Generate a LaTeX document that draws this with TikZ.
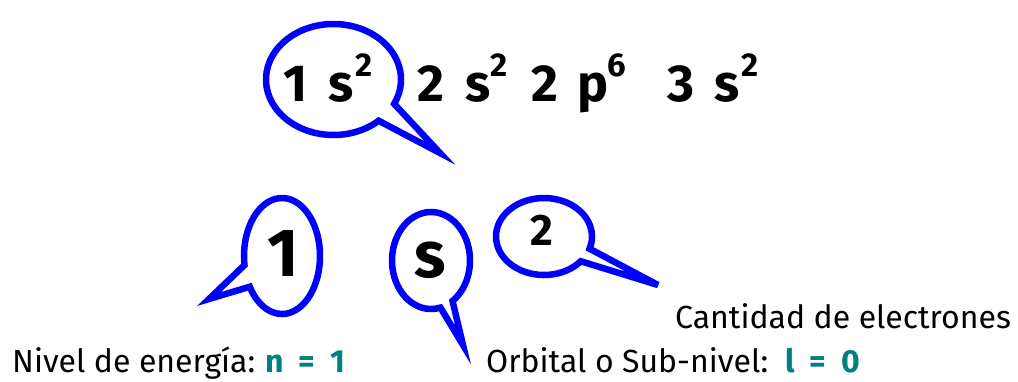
\documentclass[tikz,border=0pt]{standalone}
\usepackage{fontspec}
\setmainfont{Fira Sans}
\definecolor{callblue}{RGB}{0,0,255}
\definecolor{qteal}{RGB}{0,128,128}
\tikzset{
  bubble/.style={draw=callblue, line width=6.5pt, line join=miter, fill=white},
  bigch/.style={font=\fontsize{52}{52}\selectfont\bfseries, inner sep=0pt, anchor=base},
  supch/.style={font=\fontsize{33}{33}\selectfont\bfseries, inner sep=0pt, anchor=base},
  txt/.style={font=\fontsize{32}{32}\selectfont, inner sep=0pt, anchor=base west},
  val/.style={txt, font=\fontsize{32}{32}\selectfont\bfseries, text=qteal},
}
\begin{document}
\begin{tikzpicture}[x=1pt, y=-1pt]
    \useasboundingbox (0,0) rectangle (1018,381);

    \coordinate (tipA) at (440,153);
    \coordinate (tipN) at (209,299);
    \coordinate (tipS) at (463,345);
    \coordinate (tipE) at (658,285);

    \draw[bubble] (333.5,79.5) ++(48:67.5 and 55.5)
      arc[start angle=48, end angle=386, x radius=67.5, y radius=55.5] -- (tipA) -- cycle;
    \draw[bubble] (282,256) ++(171:38 and 58)
      arc[start angle=171, end angle=508, x radius=38, y radius=58] -- (tipN) -- cycle;
    \draw[bubble] (431,260.5) ++(76:39 and 48.5)
      arc[start angle=76, end angle=416.5, x radius=39, y radius=48.5] -- (tipS) -- cycle;
    \draw[bubble] (544,236.5) ++(40:48 and 38.5)
      arc[start angle=40, end angle=378.5, x radius=48, y radius=38.5] -- (tipE) -- cycle;

    \foreach \x/\t/\n in {296/1/a1, 341.5/s/a2, 430.5/2/b1, 478.5/s/b2,
                          545/2/c1, 593/p/c2, 681.5/3/d1, 727.5/s/d2}
      \node[bigch] (\n) at (\x,101) {\t};
    \foreach \x/\t/\n in {364.5/2/a3, 499.5/2/b3, 616.5/6/c3, 750.5/2/d3}
      \node[supch] (\n) at (\x,76) {\t};

    \node[bigch, font=\fontsize{68}{68}\selectfont\bfseries] (lev) at (283.5,276) {1};
    \node[bigch, font=\fontsize{65}{65}\selectfont\bfseries] (orb) at (430.5,277) {s};
    \node[bigch, font=\fontsize{44}{44}\selectfont\bfseries] (ele) at (542,245) {2};

    \node[txt] (cant) at (675,328) {Cantidad de electrones};
    \node[txt] (niv) at (12,372) {Nivel de energía:};
    \node[val] (nval) at (265,372) {n~ = ~1};
    \node[txt] (sub) at (486,372) {Orbital o Sub-nivel:};
    \node[val] (lval) at (785,372) {l~ = ~0};
\end{tikzpicture}
\end{document}
